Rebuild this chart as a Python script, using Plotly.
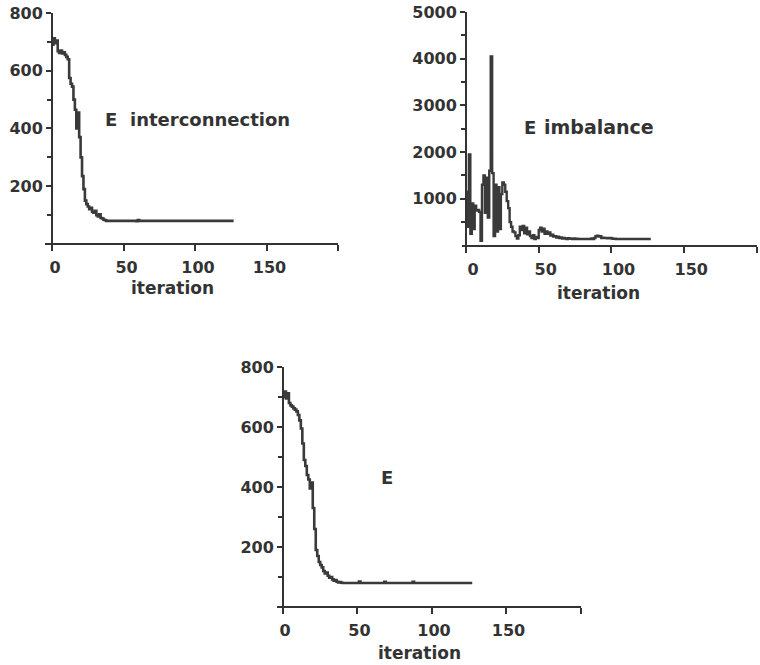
import plotly.graph_objects as go

# ---------------- data ----------------
iterations = list(range(128))

e_interconnection = [
    690, 712, 695, 705, 668, 662, 670, 660, 664, 655,
    648, 640, 575, 555, 545, 500, 465, 400, 455, 370,
    300, 235, 190, 150, 138, 130, 120, 125, 112, 108,
    115, 100, 95, 103, 90, 88, 84, 82, 80, 80,
    80, 80, 80, 80, 80, 80, 80, 80, 80, 80,
    80, 80, 80, 80, 80, 80, 80, 80, 80, 79,
    83, 80, 80, 80, 80, 80, 80, 80, 80, 80,
    80, 80, 80, 80, 80, 80, 80, 80, 80, 80,
    80, 80, 80, 80, 80, 80, 80, 80, 80, 80,
    80, 80, 80, 80, 80, 80, 80, 80, 80, 80,
    80, 80, 80, 80, 80, 80, 80, 80, 80, 80,
    80, 80, 80, 80, 80, 80, 80, 80, 80, 80,
    80, 80, 80, 80, 80, 80, 80, 80,
]

e_imbalance = [
    1150, 400, 1950, 250, 900, 350, 850, 750, 760, 720,
    100, 1300, 1500, 700, 1450, 600, 1600, 4050, 1550, 200,
    1300, 300, 1250, 350, 1100, 1350, 1300, 1150, 950, 800,
    500, 400, 300, 280, 200, 150, 220, 400, 330, 420,
    260, 380, 240, 300, 200, 160, 220, 140, 180, 160,
    330, 380, 300, 360, 250, 300, 250, 280, 210, 230,
    190, 200, 170, 190, 160, 170, 150, 160, 150, 140,
    155, 150, 145, 140, 150, 140, 145, 140, 140, 140,
    140, 140, 140, 140, 140, 140, 150, 140, 160, 200,
    210, 190, 200, 160, 165, 160, 160, 155, 160, 160,
    150, 145, 145, 140, 140, 140, 140, 140, 140, 140,
    140, 140, 140, 140, 140, 140, 140, 140, 140, 140,
    140, 140, 140, 140, 140, 140, 140, 140,
]

e_total = [
    700, 718, 695, 712, 680, 672, 668, 662, 658, 652,
    640, 622, 595, 545, 490, 470, 440, 425, 395, 415,
    330, 260, 190, 170, 150, 140, 132, 120, 112, 115,
    104, 98, 100, 92, 88, 90, 84, 82, 83, 81,
    80, 80, 80, 80, 80, 80, 80, 80, 80, 80,
    80, 85, 80, 80, 80, 80, 80, 80, 80, 80,
    80, 80, 80, 80, 80, 80, 80, 80, 84, 80,
    80, 80, 80, 80, 80, 80, 80, 80, 80, 80,
    80, 80, 80, 80, 80, 80, 80, 84, 80, 80,
    80, 80, 80, 80, 80, 80, 80, 80, 80, 80,
    80, 80, 80, 80, 80, 80, 80, 80, 80, 80,
    80, 80, 80, 80, 80, 80, 80, 80, 80, 80,
    80, 80, 80, 80, 80, 80, 80, 80,
]

x_tickvals = [0, 50, 100, 150, 200]
x_ticktext = ["0", "50", "100", "150", ""]
y800_tickvals = [200, 400, 600, 800]
y800_ticktext = ["200", "400", "600", "800"]
y800_minor = [100, 300, 500, 700]
y5000_tickvals = [1000, 2000, 3000, 4000, 5000]
y5000_ticktext = ["1000", "2000", "3000", "4000", "5000"]
y5000_minor = [500, 1500, 2500, 3500, 4500]

# ---------------- layout helpers ----------------
W, H = 760, 665
INK = "#333333"
LINE = "#3a3a3a"
TICKFONT = dict(family="DejaVu Sans", size=16, color=INK, weight="bold")


def px(x):
    return x / W


def py(y):
    return 1 - y / H


fig = go.Figure()

fig.add_trace(go.Scatter(x=iterations, y=e_interconnection, mode="lines",
                         line=dict(color=LINE, width=2.6, shape="hv"),
                         xaxis="x", yaxis="y", showlegend=False))
fig.add_trace(go.Scatter(x=iterations, y=e_imbalance, mode="lines",
                         line=dict(color=LINE, width=2.4, shape="hv"),
                         xaxis="x2", yaxis="y2", showlegend=False))
fig.add_trace(go.Scatter(x=iterations, y=e_total, mode="lines",
                         line=dict(color=LINE, width=2.6, shape="hv"),
                         xaxis="x3", yaxis="y3", showlegend=False))


def xaxis(domain, rng, pos, shift=3):
    return dict(domain=domain, range=rng, anchor="free", position=pos,
                tickvals=x_tickvals, ticktext=x_ticktext,
                ticks="outside", ticklen=6, tickwidth=2, tickcolor=INK,
                showline=True, linewidth=2, linecolor=INK,
                showgrid=False, zeroline=False, tickfont=TICKFONT,
                ticklabelstandoff=3, ticklabelshift=shift, fixedrange=True,
                automargin=False)


def yaxis(domain, rng, pos, tv, tt, mv):
    return dict(domain=domain, range=rng, anchor="free", position=pos,
                tickvals=tv, ticktext=tt,
                ticks="outside", ticklen=5, tickwidth=2, tickcolor=INK,
                minor=dict(tickvals=mv, ticks="outside", ticklen=4,
                           tickwidth=2, tickcolor=INK),
                showline=True, linewidth=2, linecolor=INK,
                showgrid=False, zeroline=False, tickfont=TICKFONT,
                ticklabelstandoff=0, fixedrange=True, automargin=False)


fig.update_layout(
    # panel 1 : x=0 at 52px, x=200 at 338px ; y=0 at 244px, y=800 at 13px
    xaxis=xaxis([px(44.85), px(338)], [-5, 200], py(244), shift=3),
    yaxis=yaxis([py(248.0), py(13)], [-14, 800], px(52),
                y800_tickvals, y800_ticktext, y800_minor),
    # panel 2 : x=0 at 466px, x=200 at 757px ; y=0 at 245.5px, y=5000 at 12px
    xaxis2=xaxis([px(461.6), px(757)], [-3, 200], py(245.5), shift=7),
    yaxis2=yaxis([py(249.2), py(12)], [-80, 5000], px(466),
                 y5000_tickvals, y5000_ticktext, y5000_minor),
    # panel 3 : x=0 at 283px, x=200 at 581px ; y=0 at 607px, y=800 at 367px
    xaxis3=xaxis([px(277.0), px(581)], [-4, 200], py(607), shift=2),
    yaxis3=yaxis([py(613), py(367)], [-20, 800], px(283),
                 y800_tickvals, y800_ticktext, y800_minor),
)

LABELFONT = dict(family="DejaVu Sans", size=18, color=INK, weight="bold")
TITLEFONT = dict(family="DejaVu Sans", size=17, color=INK, weight="bold")

annotations = [
    dict(text="E", x=px(103), y=py(119), xanchor="left", yanchor="middle", font=LABELFONT),
    dict(text="interconnection", x=px(127.5), y=py(119), xanchor="left", yanchor="middle", font=LABELFONT),
    dict(text="E", x=px(522), y=py(127), xanchor="left", yanchor="middle", font=LABELFONT),
    dict(text="imbalance", x=px(542), y=py(127), xanchor="left", yanchor="middle",
         font=dict(family="DejaVu Sans", size=19, color=INK, weight="bold")),
    dict(text="E", x=px(379), y=py(477), xanchor="left", yanchor="middle", font=LABELFONT),
    dict(text="iteration", x=px(172), y=py(288), xanchor="center", yanchor="middle", font=TITLEFONT),
    dict(text="iteration", x=px(598), y=py(293), xanchor="center", yanchor="middle", font=TITLEFONT),
    dict(text="iteration", x=px(419), y=0, xanchor="center", yanchor="bottom", font=TITLEFONT),
]
for a in annotations:
    a.update(xref="paper", yref="paper", showarrow=False)

fig.update_layout(
    annotations=annotations,
    width=W, height=H,
    margin=dict(l=0, r=0, t=0, b=0, autoexpand=False),
    paper_bgcolor="white", plot_bgcolor="white",
    showlegend=False,
)

fig.write_html("out.html", config={"displayModeBar": False})
